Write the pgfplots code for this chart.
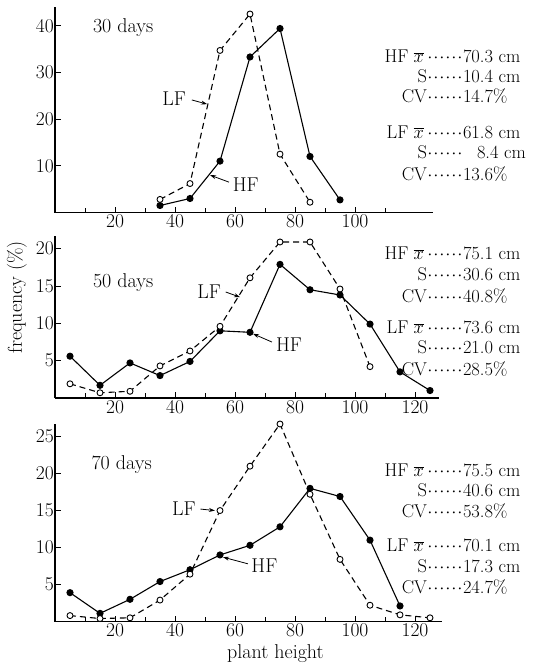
\RequirePackage{fix-cm}
\documentclass[border=0pt]{standalone}
\usepackage{pgfplots}
\pgfplotsset{compat=1.18}
\usetikzlibrary{arrows.meta}

% 1px of the reference = 1pt here
\pgfplotsset{
  panel/.style={
    scale only axis,
    axis x line*=bottom, axis y line*=left,
    xmin=0, ymin=0,
    tick align=inside,
    major tick length=6pt, minor tick length=5pt,
    axis line style={line width=1.1pt},
    tick style={line width=1pt, black},
    tick label style={font=\fontsize{19.5}{22}\selectfont},
    /pgf/number format/assume math mode=true,
    xticklabel style={inner sep=2pt},
    yticklabel style={inner sep=1pt},
    clip=false,
  },
  hf/.style={black, line width=1.1pt, mark=*, mark size=3pt,
    mark options={solid, fill=black}},
  lf/.style={black, line width=1.1pt, dash pattern=on 6pt off 4pt,
    mark=*, mark size=3pt, mark options={solid, fill=white, line width=0.9pt}},
}
\tikzset{
  note/.style={font=\fontsize{20}{22}\selectfont, inner sep=0pt},
  pointer/.style={line width=0.8pt, -{Stealth[length=6pt, width=4pt]}},
}

\newcommand\dd{\makebox[6pt]{$\cdot$}}
\newcommand\sixdots{\dd\dd\dd\dd\dd\dd}
\newcommand\xb{\;$\overline{x}$\,}
% statistics line: x where the line starts, baseline y, left part, right part
\newcommand\stat[4]{%
  \node[anchor=base west, inner sep=0pt, font=\fontsize{18.5}{20}\selectfont]
    at (axis cs:#1,#2) {\makebox[82pt][r]{#3}#4};}

\begin{document}
\begin{tikzpicture}
\path[use as bounding box] (0pt,0pt) rectangle (539pt,-668pt);

% ---------- 30 days ----------
\begin{axis}[panel,
  at={(55pt,-212.5pt)}, anchor=south west,
  width=378pt, height=205.5pt,
  xmax=126, ymax=44,
  xtick={20,40,...,100}, minor xtick={10,30,...,110},
  ytick={10,20,30,40},
]
\addplot[hf] coordinates {(35,1.5) (45,3.0) (55,11.0) (65,33.3) (75,39.4) (85,12.0) (95,2.7)};
\addplot[lf] coordinates {(35,2.8) (45,6.2) (55,34.7) (65,42.5) (75,12.5) (85,2.2)};
\node[note] at (axis cs:22.7,39.5) {30 days};
\node[note] at (axis cs:39.7,24.3) {LF};
\draw[pointer] (axis cs:45.6,24.1) -- (axis cs:50.7,23.2);
\node[note] at (axis cs:63.6,5.9) {HF};
\draw[pointer] (axis cs:58.0,6.5) -- (axis cs:51.7,8.0);
\stat{108.6}{32.1}{HF\xb\sixdots}{70.3 cm}
\stat{108.6}{27.8}{S\sixdots}{10.4 cm}
\stat{108.6}{23.6}{CV\sixdots}{14.7\%}
\stat{108.6}{15.95}{LF\xb\sixdots}{61.8 cm}
\stat{108.6}{11.5}{S\sixdots}{\hspace{14pt}8.4 cm}
\stat{108.6}{6.75}{CV\sixdots}{13.6\%}
\end{axis}

% ---------- 50 days ----------
\begin{axis}[panel,
  at={(55pt,-398pt)}, anchor=south west,
  width=384pt, height=162pt,
  xmax=128, ymax=21.7,
  xtick={20,40,...,120}, minor xtick={10,30,...,110},
  ytick={5,10,15,20},
]
\addplot[hf] coordinates {(5,5.6) (15,1.7) (25,4.7) (35,3.0) (45,4.9) (55,9.0) (65,8.8)
  (75,17.9) (85,14.5) (95,13.8) (105,9.9) (115,3.5) (125,1.0)};
\addplot[lf] coordinates {(5,1.9) (15,0.7) (25,0.9) (35,4.3) (45,6.3) (55,9.6) (65,16.1)
  (75,20.9) (85,20.9) (95,14.6) (105,4.2)};
\node[note] at (axis cs:22.7,15.5) {50 days};
\node[note] at (axis cs:51.4,14.3) {LF};
\draw[pointer] (axis cs:56.9,14.2) -- (axis cs:61.7,13.5);
\node[note] at (axis cs:78.0,7.1) {HF};
\draw[pointer] (axis cs:72.3,7.5) -- (axis cs:66,8.6);
\node[note, rotate=90] at (axis cs:-12.7,13.5) {frequency (\%)};
\stat{108.6}{18.54}{HF\xb\sixdots}{75.1 cm}
\stat{108.6}{15.73}{S\sixdots}{30.6 cm}
\stat{108.6}{12.78}{CV\sixdots}{40.8\%}
\stat{108.6}{8.63}{LF\xb\sixdots}{73.6 cm}
\stat{108.6}{5.96}{S\sixdots}{21.0 cm}
\stat{108.6}{3.01}{CV\sixdots}{28.5\%}
\end{axis}

% ---------- 70 days ----------
\begin{axis}[panel,
  at={(55pt,-621.5pt)}, anchor=south west,
  width=387pt, height=197.5pt,
  xmax=129, ymax=26.7,
  xtick={20,40,...,120}, minor xtick={10,30,...,110},
  ytick={5,10,15,20,25},
]
\addplot[hf] coordinates {(5,3.9) (15,1.1) (25,3.0) (35,5.4) (45,7.0) (55,9.0) (65,10.3)
  (75,12.8) (85,18.0) (95,16.9) (105,11.0) (115,2.1)};
\addplot[lf] coordinates {(5,0.8) (15,0.4) (25,0.5) (35,2.9) (45,6.4) (55,15.0) (65,21.0)
  (75,26.7) (85,17.2) (95,8.4) (105,2.2) (115,0.9) (125,0.5)};
\node[note] at (axis cs:22.2,21.2) {70 days};
\node[note] at (axis cs:43.0,15.2) {LF};
\draw[pointer] (axis cs:48.5,15.2) -- (axis cs:53.3,15.0);
\node[note] at (axis cs:69.8,7.6) {HF};
\draw[pointer] (axis cs:64.3,7.8) -- (axis cs:56,8.7);
\node[note] at (axis cs:73.5,-4.3) {plant height};
\stat{108.6}{19.59}{HF\xb\sixdots}{75.5 cm}
\stat{108.6}{16.89}{S\sixdots}{40.6 cm}
\stat{108.6}{14.05}{CV\sixdots}{53.8\%}
\stat{108.6}{9.46}{LF\xb\sixdots}{70.1 cm}
\stat{108.6}{6.69}{S\sixdots}{17.3 cm}
\stat{108.6}{3.85}{CV\sixdots}{24.7\%}
\end{axis}
\end{tikzpicture}
\end{document}
